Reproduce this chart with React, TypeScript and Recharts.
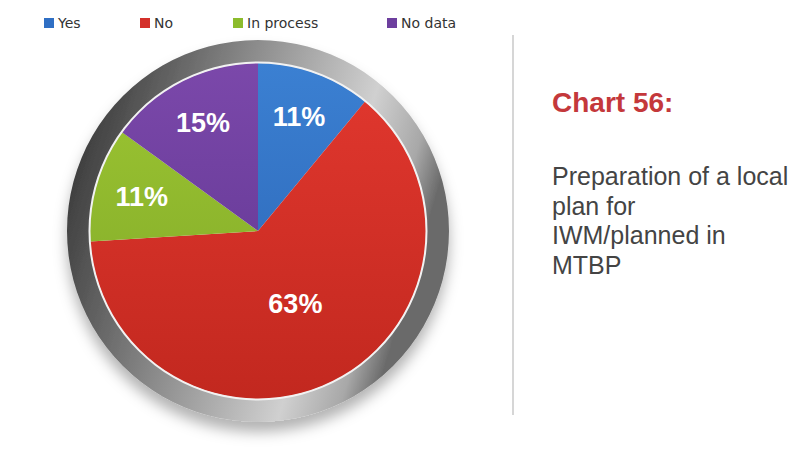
import React from "react";
import { PieChart, Pie, Cell, Legend } from "recharts";

const categories = ["Yes", "No", "In process", "No data"];
const values = [11, 63, 11, 15];
const colorsTop = ["#3b80d2", "#e2382f", "#9dc632", "#7b48aa"];
const colorsBottom = ["#2a62b2", "#c2281f", "#7ea628", "#5d348f"];
const legendColors = ["#2f6fc4", "#d4302a", "#8cbc2c", "#6d3f9e"];
const title = "Chart 56:";
const descriptionLines = ["Preparation of a local", "plan for", "IWM/planned in", "MTBP"];

const data = categories.map((name, i) => ({ name, value: values[i] }));
const rimData = [{ name: "rim", value: 1 }];

const CX = 258;
const CY = 231;
const LEGEND_H = 20;
const R = 168;
const RIM_R = 191;
const LEGEND_X = [44, 140, 233, 387];
const RAD = Math.PI / 180;

const renderLabel = (props: any) => {
  const { cx, cy, midAngle, outerRadius, percent, value } = props;
  const r = percent > 0.5 ? outerRadius * 0.49 : outerRadius * 0.72;
  const x = cx + r * Math.cos(-midAngle * RAD);
  const y = cy + r * Math.sin(-midAngle * RAD);
  return (
    <text
      x={x}
      y={y}
      fill="#ffffff"
      textAnchor="middle"
      dominantBaseline="central"
      fontFamily="'Liberation Sans', Arial, sans-serif"
      fontWeight="bold"
      fontSize={27}
    >
      {`${value}%`}
    </text>
  );
};

const renderLegend = () => (
  <div style={{ position: "relative", height: LEGEND_H, width: 799 }}>
    {categories.map((name, i) => (
      <span
        key={name}
        style={{
          position: "absolute",
          left: LEGEND_X[i],
          top: 0,
          display: "flex",
          alignItems: "center",
          fontFamily: "'DejaVu Sans', sans-serif",
          fontSize: 14,
          color: "#333",
          whiteSpace: "nowrap",
        }}
      >
        <span
          style={{
            display: "inline-block",
            width: 10,
            height: 10,
            background: legendColors[i],
            marginRight: 4,
          }}
        />
        {name}
      </span>
    ))}
  </div>
);

export default function App() {
  return (
    <div
      style={{
        position: "absolute",
        left: 0,
        top: 0,
        width: 799,
        height: 452,
        background: "#ffffff",
        overflow: "hidden",
      }}
    >
      <PieChart width={799} height={452} margin={{ top: 0, right: 0, bottom: 0, left: 0 }}>
        <defs>
          <linearGradient id="rimGrad" x1="0" y1="0" x2="1" y2="0.3">
            <stop offset="0%" stopColor="#262626" />
            <stop offset="14%" stopColor="#454545" />
            <stop offset="45%" stopColor="#8a8a8a" />
            <stop offset="78%" stopColor="#d0d0d0" />
            <stop offset="92%" stopColor="#a8a8a8" />
            <stop offset="100%" stopColor="#6a6a6a" />
          </linearGradient>
          <filter id="rimShadow" x="-20%" y="-20%" width="140%" height="150%">
            <feDropShadow dx="0" dy="10" stdDeviation="7" floodColor="#000" floodOpacity="0.3" />
          </filter>
          {categories.map((name, i) => (
            <linearGradient
              key={name}
              id={`slice${i}`}
              gradientUnits="userSpaceOnUse"
              x1={CX}
              y1={CY - R}
              x2={CX}
              y2={CY + R}
            >
              <stop offset="0%" stopColor={colorsTop[i]} />
              <stop offset="100%" stopColor={colorsBottom[i]} />
            </linearGradient>
          ))}
        </defs>
        <Legend
          content={renderLegend}
          verticalAlign="top"
          height={LEGEND_H}
          wrapperStyle={{ position: "absolute", top: 15, left: 0, width: 799 }}
        />
        <Pie
          data={rimData}
          dataKey="value"
          cx={CX}
          cy={CY - LEGEND_H}
          innerRadius={R}
          outerRadius={RIM_R}
          startAngle={90}
          endAngle={-270}
          fill="url(#rimGrad)"
          stroke="none"
          filter="url(#rimShadow)"
          legendType="none"
          isAnimationActive={false}
        />
        <Pie
          data={data}
          dataKey="value"
          nameKey="name"
          cx={CX}
          cy={CY - LEGEND_H}
          outerRadius={R}
          startAngle={90}
          endAngle={-270}
          stroke="none"
          label={renderLabel}
          labelLine={false}
          isAnimationActive={false}
        >
          {data.map((d, i) => (
            <Cell key={d.name} fill={`url(#slice${i})`} />
          ))}
        </Pie>
        <Pie
          data={rimData}
          dataKey="value"
          cx={CX}
          cy={CY - LEGEND_H}
          innerRadius={R - 0.5}
          outerRadius={R + 1.5}
          startAngle={90}
          endAngle={-270}
          fill="#f2f2f2"
          stroke="none"
          legendType="none"
          isAnimationActive={false}
        />
      </PieChart>
      <div
        style={{
          position: "absolute",
          left: 512,
          top: 35,
          width: 2,
          height: 380,
          background: "#d6d6d6",
        }}
      />
      <div
        style={{
          position: "absolute",
          left: 552,
          top: 89,
          width: 200,
          fontFamily: "'Liberation Sans', Arial, sans-serif",
          fontWeight: "bold",
          fontSize: 28,
          lineHeight: "28px",
          color: "#c4383b",
          whiteSpace: "nowrap",
        }}
      >
        {title}
      </div>
      <div
        style={{
          position: "absolute",
          left: 552,
          top: 162,
          width: 240,
          fontFamily: "'Liberation Sans', Arial, sans-serif",
          fontSize: 25,
          lineHeight: "29.5px",
          color: "#444",
          whiteSpace: "nowrap",
        }}
      >
        {descriptionLines.map((line) => (
          <div key={line}>{line}</div>
        ))}
      </div>
    </div>
  );
}
